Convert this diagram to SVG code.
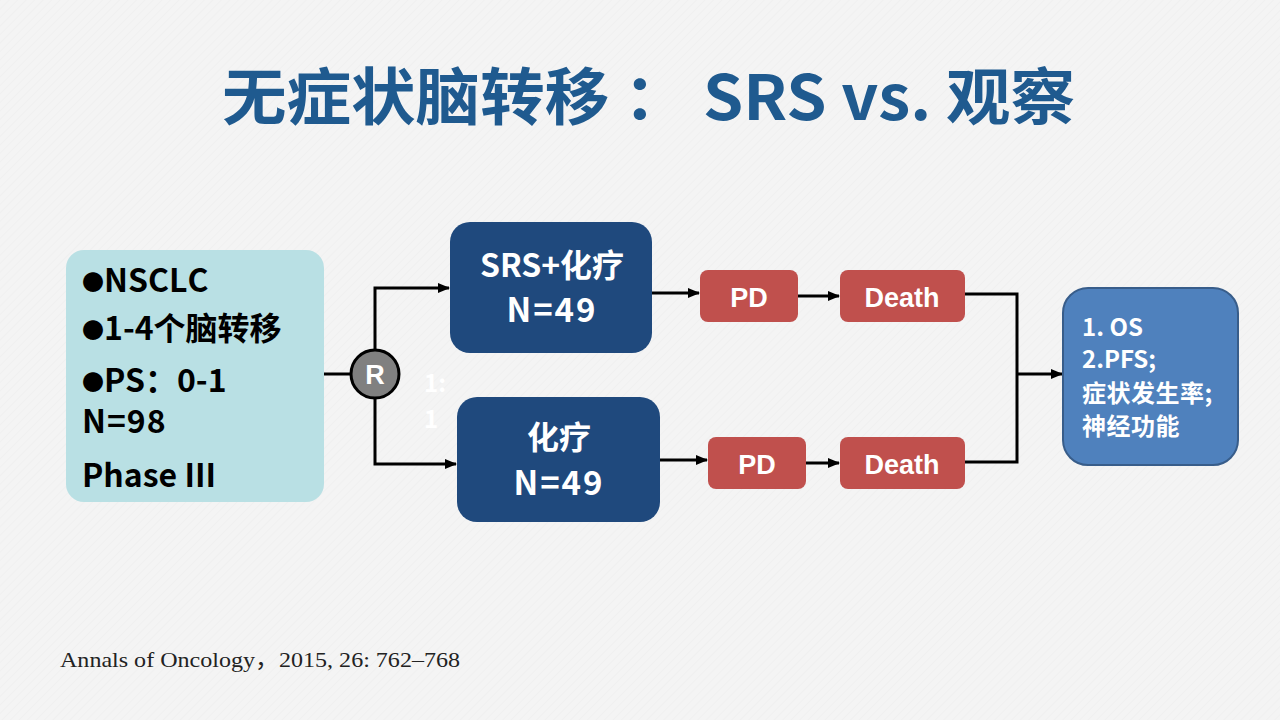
<svg xmlns="http://www.w3.org/2000/svg" width="1280" height="720" viewBox="0 0 1280 720">
<defs>
<pattern id="hatch" width="6" height="6" patternUnits="userSpaceOnUse" patternTransform="rotate(45)">
<rect width="6" height="6" fill="#f4f4f4"/>
<line x1="0" y1="0" x2="0" y2="6" stroke="#ececec" stroke-width="1"/>
</pattern>
<marker id="arr" markerWidth="12" markerHeight="10" refX="11" refY="5" orient="auto" markerUnits="userSpaceOnUse">
<path d="M0,0 L12,5 L0,10 Z" fill="#000"/>
</marker>
<style>
.cjk{font-family:"Noto Sans CJK SC","Noto Sans",sans-serif;font-weight:bold}
.lat{font-family:"Liberation Sans",Arial,sans-serif;font-weight:bold}
.conn{fill:none;stroke:#000;stroke-width:3}
.red{fill:#c0504d}
.navy{fill:#1f497d}
.wt{fill:#fff}
.bul{font-size:22px}
</style>
</defs>
<rect width="1280" height="720" fill="url(#hatch)"/>
<text x="222" y="120" textLength="853" lengthAdjust="spacingAndGlyphs" class="cjk" font-size="62" fill="#1f5a8f">无症状脑转移 ： SRS vs. 观察</text>

<g id="connectors">
<path class="conn" d="M324,374 H350"/>
<path class="conn" d="M375,349 V288 H449" marker-end="url(#arr)"/>
<path class="conn" d="M375,399 V464 H456" marker-end="url(#arr)"/>
<path class="conn" d="M652,293 H699" marker-end="url(#arr)"/>
<path class="conn" d="M798,296 H839" marker-end="url(#arr)"/>
<path class="conn" d="M660,460 H707" marker-end="url(#arr)"/>
<path class="conn" d="M806,463 H839" marker-end="url(#arr)"/>
<path class="conn" d="M965,294 H1017 V462 H965"/>
<path class="conn" d="M1017,374 H1062" marker-end="url(#arr)"/>
</g>

<g id="ratio">
<text x="424" y="392" class="cjk" font-size="24" fill="#fff">1:</text>
<text x="424" y="428" class="cjk" font-size="24" fill="#fff">1</text>
</g>

<g id="criteria">
<rect x="66" y="250" width="258" height="252" rx="18" fill="#b9e0e4"/>
<text x="82" y="292" class="cjk" font-size="32" fill="#000"><tspan class="bul" dy="-2">●</tspan><tspan dy="2">NSCLC</tspan></text>
<text x="82" y="340" class="cjk" font-size="32" fill="#000"><tspan class="bul" dy="-2">●</tspan><tspan dy="2">1-4个脑转移</tspan></text>
<text x="82" y="392" class="cjk" font-size="32" fill="#000"><tspan class="bul" dy="-2">●</tspan><tspan dy="2">PS：0-1</tspan></text>
<text x="82" y="433" class="cjk" font-size="32" fill="#000" letter-spacing="1">N=98</text>
<text x="82" y="487" class="cjk" font-size="32" fill="#000">Phase III</text>
</g>

<g id="randomize">
<circle cx="375" cy="374" r="24" fill="#808080" stroke="#000" stroke-width="3"/>
<text x="375" y="384" text-anchor="middle" class="lat" font-size="27" fill="#fff">R</text>
</g>

<g id="arm-srs">
<rect x="450" y="222" width="202" height="131" rx="20" class="navy"/>
<text x="552" y="277" text-anchor="middle" class="cjk wt" font-size="32">SRS+化疗</text>
<text x="552" y="322" text-anchor="middle" class="cjk wt" font-size="33" letter-spacing="2">N=49</text>
</g>

<g id="arm-chemo">
<rect x="457" y="397" width="203" height="125" rx="20" class="navy"/>
<text x="559" y="449" text-anchor="middle" class="cjk wt" font-size="32">化疗</text>
<text x="559" y="495" text-anchor="middle" class="cjk wt" font-size="33" letter-spacing="2">N=49</text>
</g>

<g id="pd1">
<rect x="700" y="270" width="98" height="52" rx="8" class="red"/>
<text x="749" y="307" text-anchor="middle" class="lat wt" font-size="27">PD</text>
</g>
<g id="death1">
<rect x="840" y="270" width="125" height="52" rx="8" class="red"/>
<text x="902" y="307" text-anchor="middle" class="lat wt" font-size="27">Death</text>
</g>
<g id="pd2">
<rect x="708" y="437" width="98" height="52" rx="8" class="red"/>
<text x="757" y="474" text-anchor="middle" class="lat wt" font-size="27">PD</text>
</g>
<g id="death2">
<rect x="840" y="437" width="125" height="52" rx="8" class="red"/>
<text x="902" y="474" text-anchor="middle" class="lat wt" font-size="27">Death</text>
</g>

<g id="outcomes">
<rect x="1063" y="288" width="175" height="177" rx="25" fill="#4f81bd" stroke="#385d8a" stroke-width="2"/>
<text x="1082" y="336" class="cjk wt" font-size="24">1. OS</text>
<text x="1082" y="368" class="cjk wt" font-size="24">2.PFS;</text>
<text x="1082" y="402" class="cjk wt" font-size="24" letter-spacing="0.5">症状发生率;</text>
<text x="1082" y="435" class="cjk wt" font-size="24" letter-spacing="0.5">神经功能</text>
</g>

<text x="60" y="667" textLength="400" lengthAdjust="spacingAndGlyphs" font-family="'Liberation Serif','Times New Roman','Noto Sans CJK SC',serif" font-size="22" fill="#222">Annals of Oncology，2015, 26: 762–768</text>
</svg>
